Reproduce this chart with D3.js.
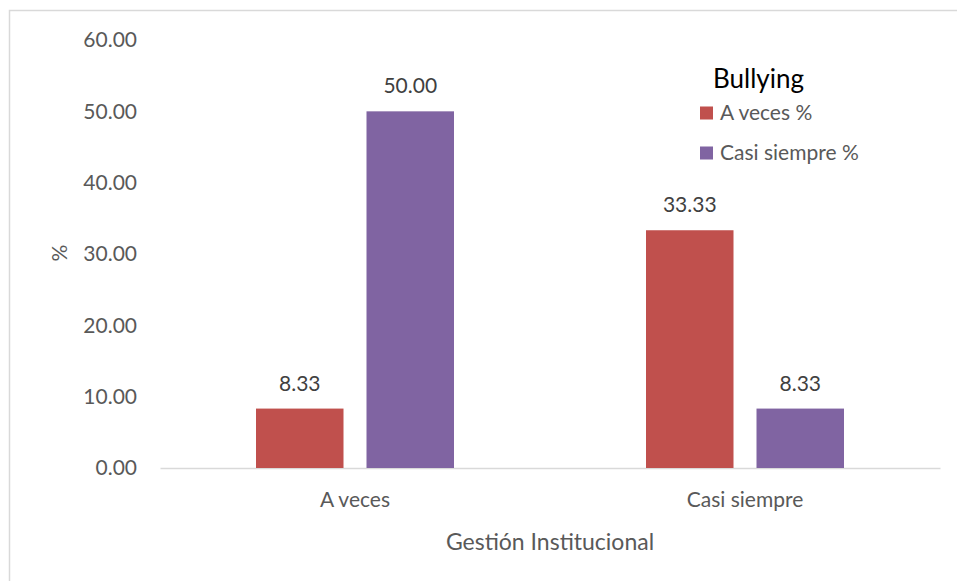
<!DOCTYPE html>
<html><head><meta charset="utf-8">
<script src="https://cdn.jsdelivr.net/npm/d3@7"></script>
<style>body{margin:0;background:#fff}svg{display:block}text{font-family:Lato,"Open Sans",sans-serif}</style>
</head><body>
<svg id="c" width="957" height="581"></svg>
<script>
const categories = ["A veces", "Casi siempre"];
const seriesNames = ["A veces %", "Casi siempre %"];
const seriesValues = [[8.33, 33.33], [50.00, 8.33]]; // per series, per category
const yTicks = [0, 10, 20, 30, 40, 50, 60];
const colors = ["#C0504D", "#8064A2"];

const svg = d3.select("#c");
svg.append("rect").attr("x", 9.5).attr("y", 10.5).attr("width", 960).attr("height", 580)
  .attr("fill", "#fff").attr("stroke", "#D9D9D9").attr("stroke-width", 1.5);

const x0 = d3.scaleBand().domain(categories).range([160, 940]).paddingInner(0).paddingOuter(0);
const y = d3.scaleLinear().domain([0, 60]).range([468, 40]);
const bw = 87.5, gap = 23;

// y axis labels
const yAxis = d3.axisLeft(y).tickValues(yTicks).tickFormat(d3.format(".2f")).tickSize(0).tickPadding(23);
const ga = svg.append("g").attr("transform", "translate(160,0)").call(yAxis);
ga.select(".domain").remove();
ga.selectAll("text").attr("fill", "#595959").style("font-size", "21px").style("font-family", "Lato");

// baseline
const xAxis = d3.axisBottom(x0).tickSize(0).tickPadding(24);
const gx = svg.append("g").attr("transform", "translate(0,468)").call(xAxis);
gx.select(".domain").attr("stroke", "#D9D9D9").attr("stroke-width", 1.5);
gx.selectAll("text").attr("fill", "#595959").style("font-size", "21px").style("font-family", "Lato");

// bars
const data = [];
seriesValues.forEach((vals, si) => vals.forEach((v, ci) => data.push({si, ci, v})));
const barX = d => x0(categories[d.ci]) + x0.bandwidth() / 2 + (d.si === 0 ? -(gap / 2 + bw) : gap / 2);
svg.append("g").selectAll("rect").data(data).join("rect")
  .attr("x", barX).attr("width", bw)
  .attr("y", d => y(d.v)).attr("height", d => y(0) - y(d.v))
  .attr("fill", d => colors[d.si]);
svg.append("g").selectAll("text").data(data).join("text")
  .attr("x", d => barX(d) + bw / 2).attr("y", d => y(d.v) - 18)
  .attr("text-anchor", "middle").attr("fill", "#404040")
  .style("font-size", "21px").text(d => d.v.toFixed(2));

// axis titles
svg.append("text").attr("transform", "translate(67,253) rotate(-90)")
  .attr("text-anchor", "middle").attr("fill", "#595959").style("font-size", "21px").text("%");
svg.append("text").attr("x", 550).attr("y", 550).attr("text-anchor", "middle")
  .attr("fill", "#595959").style("font-size", "23px").text("Gestión Institucional");

// legend
const lg = svg.append("g");
lg.append("text").attr("x", 713).attr("y", 88).attr("fill", "#000").style("font-size", "26px").text("Bullying");
seriesNames.forEach((n, i) => {
  const cy = 113 + i * 40;
  lg.append("rect").attr("x", 700).attr("y", cy - 6.5).attr("width", 13).attr("height", 13).attr("fill", colors[i]);
  lg.append("text").attr("x", 720).attr("y", cy + 7).attr("fill", "#595959").style("font-size", "21px").text(n);
});
</script>
</body></html>
